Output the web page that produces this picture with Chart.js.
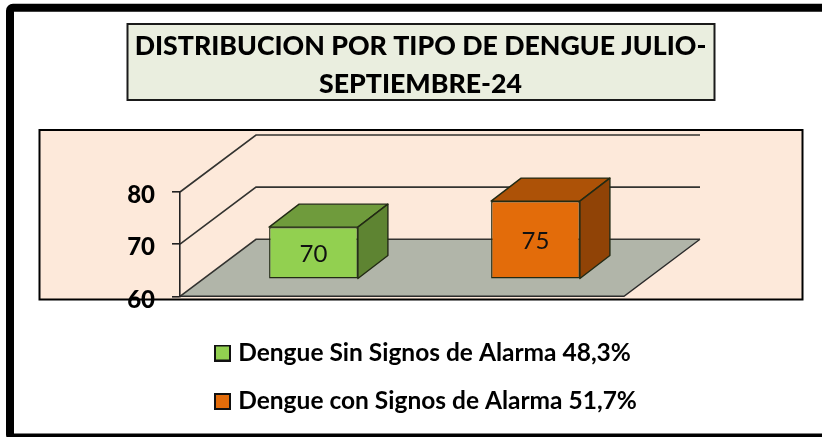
<!DOCTYPE html>
<html>
<head>
<meta charset="utf-8">
<style>html,body{margin:0;padding:0;background:#fff}canvas{display:block}</style>
<script src="https://cdn.jsdelivr.net/npm/chart.js@4"></script>
</head>
<body>
<canvas id="c" width="822" height="437"></canvas>
<script>
const categories = ['Dengue Sin Signos de Alarma 48,3%', 'Dengue con Signos de Alarma 51,7%'];
const values = [70, 75];
const frontColors = ['#92D050', '#E36C0A'];
const topColors = ['#6F9B3C', '#AD5207'];
const sideColors = ['#5E8432', '#904306'];
const titleLines = ['DISTRIBUCION POR TIPO DE DENGUE JULIO-', 'SEPTIEMBRE-24'];
const yTicks = [60, 70, 80];

const WALL = {dx: 76, dy: -57};
const BAR_OFF = {dx: 22.5, dy: -17};
const BAR_DEPTH = {dx: 30, dy: -23};
const EDGE = '#222A14';

function swatch(color) {
  const s = document.createElement('canvas');
  s.width = 17; s.height = 17;
  const g = s.getContext('2d');
  g.fillStyle = color; g.fillRect(1, 1, 15, 15);
  g.strokeStyle = '#111'; g.lineWidth = 2; g.strokeRect(1, 1, 15, 15);
  return s;
}

const frame = {
  id: 'frame',
  afterLayout(chart) {
    chart.titleBlock.left = 0; chart.titleBlock.right = 841;
    chart.legend.left = 195; chart.legend.right = 822;
    chart.legend.top = 316.75; chart.legend.bottom = 437;
  },
  beforeDraw(chart) {
    const ctx = chart.ctx, a = chart.chartArea, y = chart.scales.y;
    ctx.save();
    ctx.fillStyle = '#fff'; ctx.fillRect(0, 0, chart.width, chart.height);
    ctx.strokeStyle = '#000'; ctx.lineWidth = 8;
    ctx.beginPath(); ctx.roundRect(10, 7.75, 900, 429.75, 3); ctx.stroke();
    // title box
    ctx.fillStyle = '#EAEEDF'; ctx.strokeStyle = '#1a1a1a'; ctx.lineWidth = 2;
    ctx.fillRect(127.5, 24, 587, 76); ctx.strokeRect(127.5, 24, 587, 76);
    // plot panel
    ctx.fillStyle = '#FDE9DA'; ctx.strokeStyle = '#000'; ctx.lineWidth = 2;
    ctx.fillRect(39.5, 130, 763, 169.5); ctx.strokeRect(39.5, 130, 763, 169.5);
    // floor
    const by = y.getPixelForValue(yTicks[0]);
    ctx.fillStyle = '#B1B5A9';
    ctx.beginPath();
    ctx.moveTo(a.left, by); ctx.lineTo(a.right, by);
    ctx.lineTo(a.right + WALL.dx, by + WALL.dy); ctx.lineTo(a.left + WALL.dx, by + WALL.dy);
    ctx.closePath(); ctx.fill();
    ctx.strokeStyle = '#2a2a2a'; ctx.lineWidth = 1.4;
    ctx.beginPath();
    ctx.moveTo(a.right + WALL.dx, by + WALL.dy); ctx.lineTo(a.right, by); ctx.lineTo(a.left, by);
    ctx.stroke();
    // walls + gridlines
    ctx.strokeStyle = '#333330'; ctx.lineWidth = 1.6;
    yTicks.forEach(v => {
      const p = y.getPixelForValue(v);
      ctx.beginPath();
      ctx.moveTo(a.left, p); ctx.lineTo(a.left + WALL.dx, p + WALL.dy);
      ctx.lineTo(a.right + WALL.dx, p + WALL.dy);
      ctx.stroke();
    });
    ctx.restore();
  },
  beforeDatasetsDraw(chart) {
    chart.ctx.save();
    chart.ctx.translate(BAR_OFF.dx, BAR_OFF.dy);
  },
  beforeDatasetDraw(chart, args) {
    const ctx = chart.ctx;
    args.meta.data.forEach((bar, i) => {
      const {x, y, base, width} = bar.getProps(['x', 'y', 'base', 'width'], true);
      const l = x - width / 2, r = x + width / 2, d = BAR_DEPTH;
      ctx.strokeStyle = EDGE; ctx.lineWidth = 1.4; ctx.lineJoin = 'round';
      ctx.fillStyle = topColors[i];
      ctx.beginPath();
      ctx.moveTo(l, y); ctx.lineTo(l + d.dx, y + d.dy); ctx.lineTo(r + d.dx, y + d.dy); ctx.lineTo(r, y);
      ctx.closePath(); ctx.fill(); ctx.stroke();
      ctx.fillStyle = sideColors[i];
      ctx.beginPath();
      ctx.moveTo(r, y); ctx.lineTo(r + d.dx, y + d.dy); ctx.lineTo(r + d.dx, base + d.dy); ctx.lineTo(r, base);
      ctx.closePath(); ctx.fill(); ctx.stroke();
    });
  },
  afterDatasetsDraw(chart) {
    const ctx = chart.ctx;
    chart.getDatasetMeta(0).data.forEach((bar, i) => {
      const {x, y, base} = bar.getProps(['x', 'y', 'base'], true);
      ctx.fillStyle = '#111';
      ctx.font = '24px Lato';
      ctx.textAlign = 'center'; ctx.textBaseline = 'middle';
      ctx.fillText(String(values[i]), x, (y + base) / 2 + 1);
    });
    ctx.restore();
  }
};

new Chart(document.getElementById('c'), {
  type: 'bar',
  data: {
    labels: categories,
    datasets: [{
      data: values,
      base: yTicks[0],
      clip: false,
      backgroundColor: frontColors,
      borderColor: EDGE,
      borderWidth: 1.4,
      borderSkipped: false,
      barPercentage: 0.4,
      categoryPercentage: 1
    }]
  },
  plugins: [frame],
  options: {
    responsive: false,
    animation: false,
    devicePixelRatio: 1,
    layout: {padding: {left: 0, right: 198, top: 0, bottom: 33.7}},
    scales: {
      x: {display: false, grid: {display: false}},
      y: {
        min: 60, max: 80,
        afterFit(s) { s.width = 180; },
        afterBuildTicks(s) { s.ticks = yTicks.map(v => ({value: v})); },
        grid: {drawOnChartArea: false, drawTicks: true, tickLength: 8, color: '#222', lineWidth: 1.6},
        border: {display: true, color: '#222', width: 1.6},
        ticks: {
          padding: 17, labelOffset: 3.5, color: '#000',
          font: {family: 'Lato', weight: '900', size: 24}
        }
      }
    },
    plugins: {
      tooltip: {enabled: false},
      title: {
        display: true,
        text: titleLines,
        color: '#000',
        font: {family: 'Lato', weight: '900', size: 26.7, lineHeight: 38 / 26.7},
        padding: {top: 27, bottom: 89}
      },
      legend: {
        display: true,
        position: 'bottom',
        align: 'start',
        labels: {
          padding: 24,
          color: '#000',
          usePointStyle: true,
          pointStyleWidth: 7,
          boxHeight: 12,
          font: {family: 'Lato', weight: 'bold', size: 24.5},
          generateLabels() {
            return categories.map((t, i) => ({
              text: t, fontColor: '#000', pointStyle: swatch(frontColors[i]),
              fillStyle: frontColors[i], strokeStyle: '#111', lineWidth: 2, hidden: false, index: i
            }));
          }
        }
      }
    }
  }
});
</script>
</body>
</html>
